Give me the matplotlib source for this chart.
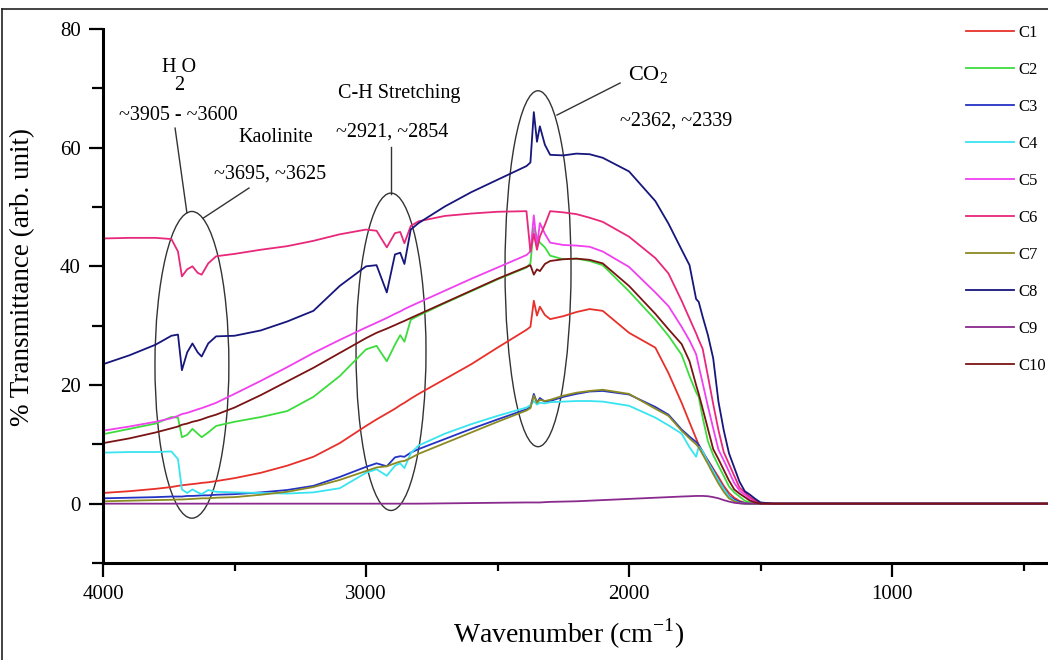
import numpy as np
import matplotlib
matplotlib.use("Agg")
import matplotlib.pyplot as plt
from matplotlib.patches import Ellipse
from matplotlib.lines import Line2D
from matplotlib.ticker import MultipleLocator

plt.rcParams['font.family'] = ['Liberation Serif', 'DejaVu Serif']
plt.rcParams['mathtext.fontset'] = 'custom'
plt.rcParams['mathtext.rm'] = 'Liberation Serif'

# wavenumber grid (cm-1)
wn = [4000, 3900, 3800, 3740, 3715, 3700, 3680, 3660, 3640, 3625,
      3600, 3570, 3500, 3400, 3300, 3200, 3100, 3000, 2960, 2921,
      2890, 2870, 2854, 2830, 2800, 2700, 2600, 2500, 2390, 2375,
      2362, 2350, 2339, 2320, 2300, 2250, 2200, 2150, 2100, 2000,
      1900, 1850, 1800, 1770, 1745, 1735, 1720, 1700, 1680, 1660,
      1640, 1620, 1600, 1580, 1560, 1540, 1520, 1500, 1450, 408]

c1 = [1.8, 2.1, 2.5, 2.8, 3.0, 3.1, 3.2, 3.3, 3.4, 3.5,
      3.6, 3.8, 4.3, 5.2, 6.4, 7.9, 10.2, 13.1, 14.2, 15.2,
      16.0, 16.6, 17.0, 17.7, 18.5, 21.0, 23.5, 26.3, 29.3, 29.8,
      34.2, 31.7, 33.2, 31.8, 31.1, 31.6, 32.3, 32.8, 32.5, 28.8,
      26.3, 22.0, 17.0, 13.7, 11.0, 9.9, 8.6, 7.3, 5.9, 4.5,
      3.0, 1.8, 1.0, 0.45, 0.15, 0.05, 0, 0, 0, 0]
c2 = [11.7, 12.6, 13.5, 14.6, 14.5, 11.2, 11.6, 12.6, 11.8, 11.2,
      12.0, 13.1, 13.8, 14.6, 15.6, 18.0, 21.5, 26.0, 26.6, 24.0,
      26.8, 28.4, 27.3, 31.0, 31.7, 33.8, 35.8, 37.8, 39.8, 40.5,
      46.5, 45.0, 44.0, 43.2, 41.8, 41.2, 41.3, 40.9, 40.2, 35.8,
      31.0, 28.3, 25.1, 21.5, 18.8, 18.0, 14.5, 10.5, 8.2, 6.4,
      4.7, 2.9, 1.9, 1.2, 0.5, 0.2, 0, 0, 0, 0]
c3 = [0.9, 1.0, 1.1, 1.2, 1.2, 1.2, 1.3, 1.3, 1.35, 1.4,
      1.4, 1.5, 1.6, 1.9, 2.3, 3.0, 4.5, 6.2, 6.8, 6.3,
      7.8, 8.0, 7.9, 8.6, 9.2, 10.9, 12.6, 14.2, 15.9, 16.3,
      18.5, 17.0, 17.8, 17.2, 17.3, 18.0, 18.5, 18.9, 19.0, 18.4,
      16.3, 15.0, 12.5, 11.3, 10.4, 9.9, 8.8, 7.2, 5.7, 4.0,
      2.6, 1.3, 0.7, 0.3, 0.1, 0, 0, 0, 0, 0]
c4 = [8.6, 8.7, 8.7, 8.8, 7.5, 2.4, 1.8, 2.4, 1.9, 1.6,
      2.3, 2.0, 1.9, 1.8, 1.7, 1.9, 2.6, 5.2, 5.8, 4.7,
      6.4, 6.8, 6.0, 8.5, 9.8, 11.8, 13.4, 14.8, 16.2, 16.6,
      17.3, 16.7, 17.0, 16.9, 17.1, 17.2, 17.3, 17.3, 17.2, 16.5,
      14.5, 13.2, 11.8, 9.5, 7.9, 9.6, 8.8, 7.0, 5.5, 3.9,
      2.5, 1.2, 0.5, 0.1, 0, 0, 0, 0, 0, 0]
c5 = [12.3, 13.0, 13.8, 14.4, 14.8, 15.1, 15.3, 15.6, 15.9, 16.1,
      16.5, 17.0, 18.5, 20.7, 23.0, 25.4, 27.6, 29.7, 30.5, 31.3,
      32.0, 32.4, 32.8, 33.3, 33.9, 35.9, 37.9, 39.8, 41.9, 42.5,
      48.6, 43.4, 47.3, 45.5, 44.0, 43.6, 43.5, 43.3, 42.5, 39.9,
      35.6, 33.3, 29.8, 27.5, 25.2, 23.2, 20.3, 16.4, 12.7, 9.1,
      7.3, 5.4, 3.5, 2.2, 1.5, 0.8, 0.3, 0, 0, 0]
c6 = [44.7, 44.8, 44.8, 44.6, 42.5, 38.3, 39.5, 40.0, 38.9, 38.6,
      40.5, 41.7, 42.1, 42.8, 43.4, 44.3, 45.4, 46.2, 46.0, 43.2,
      45.6, 45.8, 43.9, 46.8, 47.6, 48.5, 48.9, 49.2, 49.3, 42.5,
      45.5, 42.8, 45.0, 47.0, 49.3, 49.1, 48.8, 48.2, 47.5, 45.0,
      41.4, 38.8, 34.2, 31.2, 28.7, 27.6, 26.1, 21.5, 16.8, 12.4,
      8.7, 6.7, 4.7, 2.7, 1.9, 1.1, 0.5, 0.1, 0, 0]
c7 = [0.4, 0.5, 0.6, 0.65, 0.7, 0.7, 0.75, 0.8, 0.85, 0.9,
      0.9, 1.0, 1.1, 1.5, 2.0, 2.8, 4.0, 5.5, 6.1, 6.3,
      6.8, 7.1, 7.2, 7.7, 8.4, 10.2, 12.0, 13.8, 15.7, 16.1,
      18.2, 17.0, 17.5, 17.3, 17.5, 18.2, 18.7, 19.0, 19.2, 18.5,
      16.0, 14.8, 12.3, 11.0, 10.0, 9.5, 8.3, 6.7, 5.0, 3.4,
      2.0, 0.9, 0.4, 0.1, 0, 0, 0, 0, 0, 0]
c8 = [23.5, 25.0, 26.8, 28.3, 28.5, 22.5, 25.5, 27.0, 25.5, 24.8,
      27.0, 28.2, 28.3, 29.2, 30.7, 32.5, 36.7, 40.0, 40.2, 35.6,
      42.0, 42.3, 40.4, 46.2, 47.3, 50.1, 52.5, 54.6, 56.9, 57.5,
      66.0, 61.0, 63.6, 60.5, 58.8, 58.7, 59.0, 58.9, 58.3, 56.0,
      51.0, 47.2, 42.8, 40.2, 34.5, 34.0, 31.5, 28.4, 24.5, 17.2,
      12.4, 8.5, 6.1, 3.7, 2.1, 1.5, 0.8, 0.2, 0, 0]
c9 = [0, 0, 0, 0, 0, 0, 0, 0, 0, 0,
      0, 0, 0, 0, 0, 0, 0, 0, 0, 0,
      0, 0, 0, 0, 0, 0.05, 0.1, 0.15, 0.2, 0.2,
      0.2, 0.2, 0.2, 0.25, 0.3, 0.35, 0.4, 0.5, 0.6, 0.8,
      1.0, 1.1, 1.2, 1.25, 1.3, 1.3, 1.3, 1.25, 1.1, 0.9,
      0.6, 0.35, 0.15, 0.05, 0, 0, 0, 0, 0, 0]
c10 = [10.2, 11.0, 12.0, 12.7, 13.0, 13.3, 13.5, 13.8, 14.0, 14.2,
       14.6, 15.0, 16.2, 18.3, 20.6, 22.9, 25.4, 27.9, 28.8, 29.5,
       30.1, 30.5, 30.8, 31.3, 31.9, 33.9, 35.9, 37.9, 39.9, 40.2,
       38.6, 39.5, 39.2, 40.4, 40.9, 41.2, 41.3, 41.1, 40.5, 36.7,
       32.0, 29.4, 26.9, 24.0, 20.0, 18.5, 16.0, 12.6, 9.2, 7.5,
       5.7, 3.9, 2.4, 1.7, 1.1, 0.5, 0.2, 0, 0, 0]

labels = ['C1', 'C2', 'C3', 'C4', 'C5', 'C6', 'C7', 'C8', 'C9', 'C10']
series = [c1, c2, c3, c4, c5, c6, c7, c8, c9, c10]
colors = ['#e8302a', '#3ddc3d', '#2433c4', '#38e4f0', '#f040f0',
          '#e8287a', '#8c8a22', '#16167c', '#8a2a8e', '#7a1414']

fig = plt.figure(figsize=(10.48, 6.6), dpi=100)
ax = fig.add_axes([0.0983, 0.147, 0.9017, 0.809])

for lab, vals, col in zip(labels, series, colors):
    ax.plot(wn, vals, color=col, lw=1.3, label=lab)

ax.set_xlim(4000, 407)
ax.set_ylim(-10, 80)

for s in ['top', 'right']:
    ax.spines[s].set_visible(False)
for s in ['left', 'bottom']:
    ax.spines[s].set_linewidth(2.2)

ax.xaxis.set_major_locator(MultipleLocator(1000))
ax.xaxis.set_minor_locator(MultipleLocator(500))
ax.yaxis.set_major_locator(MultipleLocator(20))
ax.yaxis.set_minor_locator(MultipleLocator(10))
ax.tick_params(which='major', length=10, width=1.6, labelsize=15, pad=6)
ax.tick_params(which='minor', length=6, width=1.6)
ax.tick_params(axis='y', which='minor', length=8)

ax.set_xlabel(r'Wavenumber (cm$^{\mathregular{-1}}$)', fontsize=20)
ax.set_ylabel('% Transmittance (arb. unit)', fontsize=19.5)
ax.xaxis.set_label_coords(0.493, -0.1)
ax.yaxis.set_label_coords(-0.072, 0.536)

# circled bands
ell_kw = dict(fill=False, edgecolor='#333333', lw=1.0)
ax.add_patch(Ellipse((3662, 23.4), 281, 51.7, **ell_kw))
ax.add_patch(Ellipse((2905, 25.6), 266, 53.5, **ell_kw))
ax.add_patch(Ellipse((2346, 39.6), 251, 60.0, **ell_kw))

line_kw = dict(color='#333333', lw=1.0)
ax.plot([3726, 3681], [63.3, 49.0], **line_kw)
ax.plot([3445, 3620], [53.2, 48.1], **line_kw)
ax.plot([2905, 2905], [60.1, 52.2], **line_kw)
ax.plot([2034, 2274], [70.9, 65.5], **line_kw)

txt = dict(ha='center', va='center', fontsize=14.5)
ax.text(3711, 73.6, 'H O', **txt)
ax.text(3711, 70.4, '2', **txt)
ax.text(3715, 65.5, '~3905 - ~3600', **txt)
ax.text(3342, 61.8, 'Kaolinite', **txt)
ax.text(3365, 55.6, '~3695, ~3625', **txt)
ax.text(2875, 69.2, 'C-H Stretching', **txt)
ax.text(2901, 62.6, '~2921, ~2854', **txt)
ax.text(1928, 72.3, r'CO$_{\mathregular{2}}$', ha='center', va='center', fontsize=16)
ax.text(1821, 64.5, '~2362, ~2339', **txt)

ax.legend(loc='upper left', bbox_to_anchor=(966 / 1048, (660 - 25) / 660),
          bbox_transform=fig.transFigure, frameon=False, fontsize=12,
          handlelength=2.9, handletextpad=0.25, labelspacing=1.26,
          borderpad=0, borderaxespad=0)

# outer frame of the original picture
fig.add_artist(Line2D([2 / 1048, 1], [651 / 660, 651 / 660], transform=fig.transFigure,
                      color='#222222', lw=1.2))
fig.add_artist(Line2D([2 / 1048, 2 / 1048], [0, 651 / 660], transform=fig.transFigure,
                      color='#222222', lw=1.2))

fig.savefig('out.png', dpi=100)
